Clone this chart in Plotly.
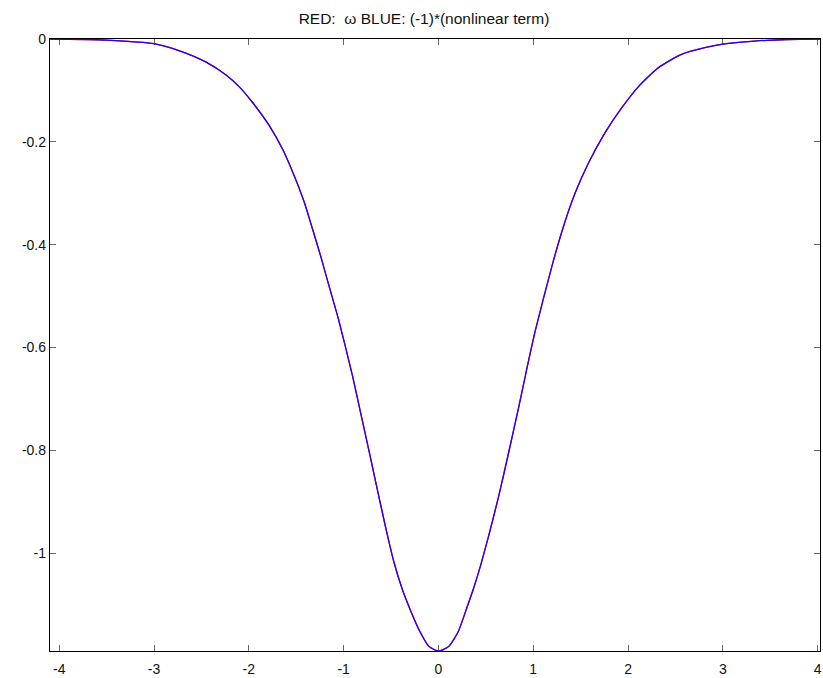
import plotly.graph_objects as go

# values
x_vals = [-4.1, -3.7, -3.5, -3.0, -2.73, -2.45, -2.24, -2.10, -1.958, -1.782, -1.642,
          -1.519, -1.414, -1.327, -1.239, -1.151, -1.054, -0.906, -0.818, -0.731,
          -0.643, -0.555, -0.468, -0.381, -0.292, -0.198, -0.10, 0.0, 0.11, 0.21, 0.30,
          0.373, 0.443, 0.53, 0.636, 0.741, 0.847, 0.934, 1.022, 1.197, 1.32,
          1.443, 1.583, 1.758, 1.933, 2.108, 2.319, 2.564, 2.81, 3.0, 3.335,
          3.686, 4.1]

omega_red = [-0.0003, -0.001, -0.002, -0.009, -0.023, -0.045, -0.070, -0.093, -0.124,
             -0.169, -0.215, -0.267, -0.318, -0.370, -0.424, -0.482, -0.545,
             -0.655, -0.729, -0.802, -0.877, -0.951, -1.018, -1.070, -1.112, -1.151,
             -1.181, -1.19, -1.181, -1.152, -1.106, -1.067, -1.025, -0.966, -0.889,
             -0.804, -0.716, -0.640, -0.567, -0.442, -0.364, -0.299, -0.241,
             -0.182, -0.134, -0.093, -0.056, -0.030, -0.017, -0.010, -0.004,
             -0.001, -0.0003]

nonlinear_blue = list(omega_red)

x_tick_vals = [-4, -3, -2, -1, 0, 1, 2, 3, 4]
x_tick_text = ["-4", "-3", "-2", "-1", "0", "1", "2", "3", "4"]
y_tick_vals = [0, -0.2, -0.4, -0.6, -0.8, -1]
y_tick_text = ["0", "-0.2", "-0.4", "-0.6", "-0.8", "-1"]

title_text = "RED:  \u03c9 BLUE: (-1)*(nonlinear term)"

fig = go.Figure()
fig.add_trace(go.Scatter(x=x_vals, y=omega_red, mode="lines",
                         line=dict(color="#ff0000", width=1.3, shape="spline", smoothing=0.6),
                         showlegend=False))
fig.add_trace(go.Scatter(x=x_vals, y=nonlinear_blue, mode="lines",
                         line=dict(color="#2200ff", width=1.3, shape="spline", smoothing=0.6),
                         showlegend=False))

font_family = "Liberation Sans, Arial, sans-serif"

axis_common = dict(
    showgrid=False, zeroline=False, showline=True, linecolor="#000000", linewidth=1.3,
    mirror="ticks", ticks="inside", ticklen=6, tickcolor="#666666", tickwidth=1,
    layer="below traces", ticklabeloverflow="allow",
    tickfont=dict(family=font_family, size=14, color="#111111"),
)

fig.update_xaxes(range=[-4.097, 4.025], tickvals=x_tick_vals, ticktext=x_tick_text,
                 ticklabelstandoff=5, **axis_common)
fig.update_yaxes(range=[-1.19, 0], tickvals=y_tick_vals, ticktext=y_tick_text,
                 **axis_common)

fig.update_layout(
    width=823, height=678,
    margin=dict(l=50, r=1, t=39, b=26),
    paper_bgcolor="white", plot_bgcolor="white",
    title=dict(text=title_text, x=424 / 823, xanchor="center", y=1 - 19 / 678,
               yanchor="middle", xref="container", yref="container",
               font=dict(family=font_family, size=15.5, color="#111111")),
)

fig.write_html("out.html")
